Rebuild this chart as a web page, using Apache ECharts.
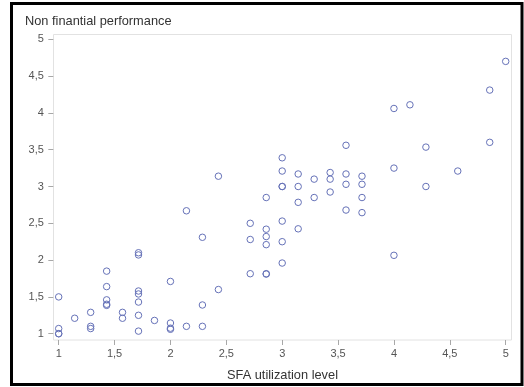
<!DOCTYPE html>
<html>
<head>
<meta charset="utf-8">
<script src="https://cdn.jsdelivr.net/npm/echarts@6/dist/echarts.min.js"></script>
<style>
html,body{margin:0;padding:0;background:#fff;}
#chart{width:524px;height:387px;}
</style>
</head>
<body>
<div id="chart"></div>
<script>
// SFA utilization level (x) and Non finantial performance (y), one entry per respondent
const xs = [
  1, 1, 1, 1,
  1.143,
  1.286, 1.286, 1.286,
  1.429, 1.429, 1.429, 1.429, 1.429,
  1.571, 1.571,
  1.714, 1.714, 1.714, 1.714, 1.714, 1.714, 1.714,
  1.857,
  2, 2, 2, 2,
  2.143, 2.143,
  2.286, 2.286, 2.286,
  2.429, 2.429,
  2.714, 2.714, 2.714,
  2.857, 2.857, 2.857, 2.857, 2.857, 2.857,
  3, 3, 3, 3, 3, 3, 3,
  3.143, 3.143, 3.143, 3.143,
  3.286, 3.286,
  3.429, 3.429, 3.429,
  3.571, 3.571, 3.571, 3.571,
  3.714, 3.714, 3.714, 3.714,
  4, 4, 4,
  4.143,
  4.286, 4.286,
  4.571,
  4.857, 4.857,
  5
];
const ys = [
  1.5, 1.07, 1.0, 1.0,
  1.21,
  1.29, 1.1, 1.07,
  1.85, 1.64, 1.46, 1.40, 1.385,
  1.29, 1.21,
  2.10, 2.07, 1.58, 1.54, 1.43, 1.25, 1.035,
  1.18,
  1.71, 1.145, 1.075, 1.06,
  2.67, 1.10,
  2.31, 1.39, 1.10,
  3.14, 1.60,
  2.50, 2.28, 1.815,
  2.85, 2.42, 2.32, 2.21, 1.815, 1.81,
  3.39, 3.21, 3.0, 3.0, 2.53, 2.25, 1.96,
  3.17, 3.0, 2.785, 2.425,
  3.10, 2.85,
  3.19, 3.10, 2.925,
  3.56, 3.17, 3.03, 2.68,
  3.14, 3.03, 2.85, 2.645,
  4.06, 3.25, 2.065,
  4.11,
  3.535, 3.0,
  3.21,
  4.31, 3.6,
  4.70
];
const xTitle = 'SFA utilization level';
const yTitle = 'Non finantial performance';
const axisMin = 1, axisMax = 5, axisStep = 0.5;

const points = xs.map((x, i) => [x, ys[i]]);
const fmt = v => String(v).replace('.', ',');
const font = 'Liberation Sans, Arial, sans-serif';

const chart = echarts.init(document.getElementById('chart'), null, {renderer: 'canvas'});
chart.setOption({
  animation: false,
  backgroundColor: '#fff',
  grid: {left: 58.7, right: 18.3, top: 39.3, bottom: 53.3, containLabel: false},
  xAxis: {
    type: 'value', min: axisMin, max: axisMax, interval: axisStep, offset: 6.3,
    axisLine: {show: false},
    axisTick: {show: true, length: 5, lineStyle: {color: '#a8a8a8'}},
    splitLine: {show: false},
    axisLabel: {formatter: fmt, margin: 8, color: '#555', fontSize: 11, fontFamily: font}
  },
  yAxis: {
    type: 'value', min: axisMin, max: axisMax, interval: axisStep, offset: 5.4,
    axisLine: {show: false},
    axisTick: {show: true, length: 5, lineStyle: {color: '#a8a8a8'}},
    splitLine: {show: false},
    axisLabel: {formatter: fmt, margin: 9.5, color: '#555', fontSize: 11, fontFamily: font}
  },
  graphic: [
    {type: 'rect', z: -1, shape: {x: 53.5, y: 34.5, width: 458, height: 305.5},
     style: {fill: 'none', stroke: '#e2e2e2', lineWidth: 1}},
    {type: 'rect', shape: {x: 11.5, y: 3.5, width: 510.5, height: 381},
     style: {fill: 'none', stroke: '#000', lineWidth: 3}},
    {type: 'text', x: 25, y: 21.7,
     style: {text: yTitle, fill: '#333', font: '12.8px ' + font, textVerticalAlign: 'middle'}},
    {type: 'text', x: 282.5, y: 375.7,
     style: {text: xTitle, fill: '#333', font: '12.8px ' + font, textAlign: 'center', textVerticalAlign: 'middle'}}
  ],
  series: [{
    type: 'scatter',
    data: points,
    symbol: 'circle',
    symbolSize: 6.5,
    itemStyle: {color: 'rgba(0,0,0,0)', borderColor: '#6672b8', borderWidth: 1, opacity: 1}
  }]
});
</script>
</body>
</html>
